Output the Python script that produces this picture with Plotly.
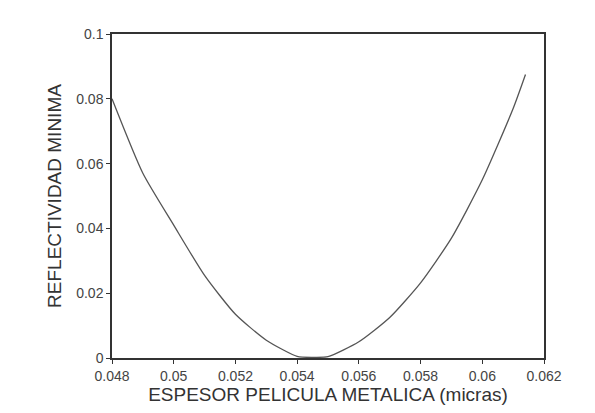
import plotly.graph_objects as go

# Data
espesor = [0.0480, 0.0490, 0.0500, 0.0510, 0.0520, 0.0530, 0.0540, 0.0545,
           0.0550, 0.0560, 0.0570, 0.0580, 0.0590, 0.0600, 0.0610, 0.0614]
reflectividad = [0.080, 0.057, 0.041, 0.0255, 0.0135, 0.0055, 0.0005, 0.0002,
                 0.0004, 0.005, 0.0125, 0.0232, 0.037, 0.055, 0.077, 0.0875]

x_ticks = [0.048, 0.050, 0.052, 0.054, 0.056, 0.058, 0.060, 0.062]
x_ticktext = ["0.048", "0.05", "0.052", "0.054", "0.056", "0.058", "0.06", "0.062"]
y_ticks = [0, 0.02, 0.04, 0.06, 0.08, 0.1]
y_ticktext = ["0", "0.02", "0.04", "0.06", "0.08", "0.1"]

x_title = "ESPESOR PELICULA METALICA (micras)"
y_title = "REFLECTIVIDAD MINIMA"

FONT = "Liberation Sans, Arial, sans-serif"

fig = go.Figure()
fig.add_trace(go.Scatter(
    x=espesor, y=reflectividad, mode="lines",
    line=dict(color="#555555", width=1.3, shape="spline", smoothing=0.6),
    showlegend=False, hoverinfo="skip",
))

axis_common = dict(
    showgrid=False, zeroline=False,
    showline=True, linecolor="#333333", linewidth=1.5, mirror=True,
    ticks="outside", ticklen=4, tickcolor="#333333", tickwidth=1,
    tickfont=dict(family=FONT, size=14, color="#444444"),
)

fig.update_layout(
    width=595, height=413,
    margin=dict(l=112, r=51, t=34, b=50),
    paper_bgcolor="white", plot_bgcolor="white",
    xaxis=dict(range=[0.048, 0.062], tickvals=x_ticks, ticktext=x_ticktext,
               title=dict(text=x_title, standoff=4,
                          font=dict(family=FONT, size=19, color="#333333")),
               **axis_common),
    yaxis=dict(range=[0, 0.1], tickvals=y_ticks, ticktext=y_ticktext,
               title=dict(text=y_title, standoff=10,
                          font=dict(family=FONT, size=19, color="#333333")),
               **axis_common),
)

fig.write_html("out.html", config={"displayModeBar": False},
               post_script="document.body.style.margin='0';document.body.style.overflow='hidden';")
